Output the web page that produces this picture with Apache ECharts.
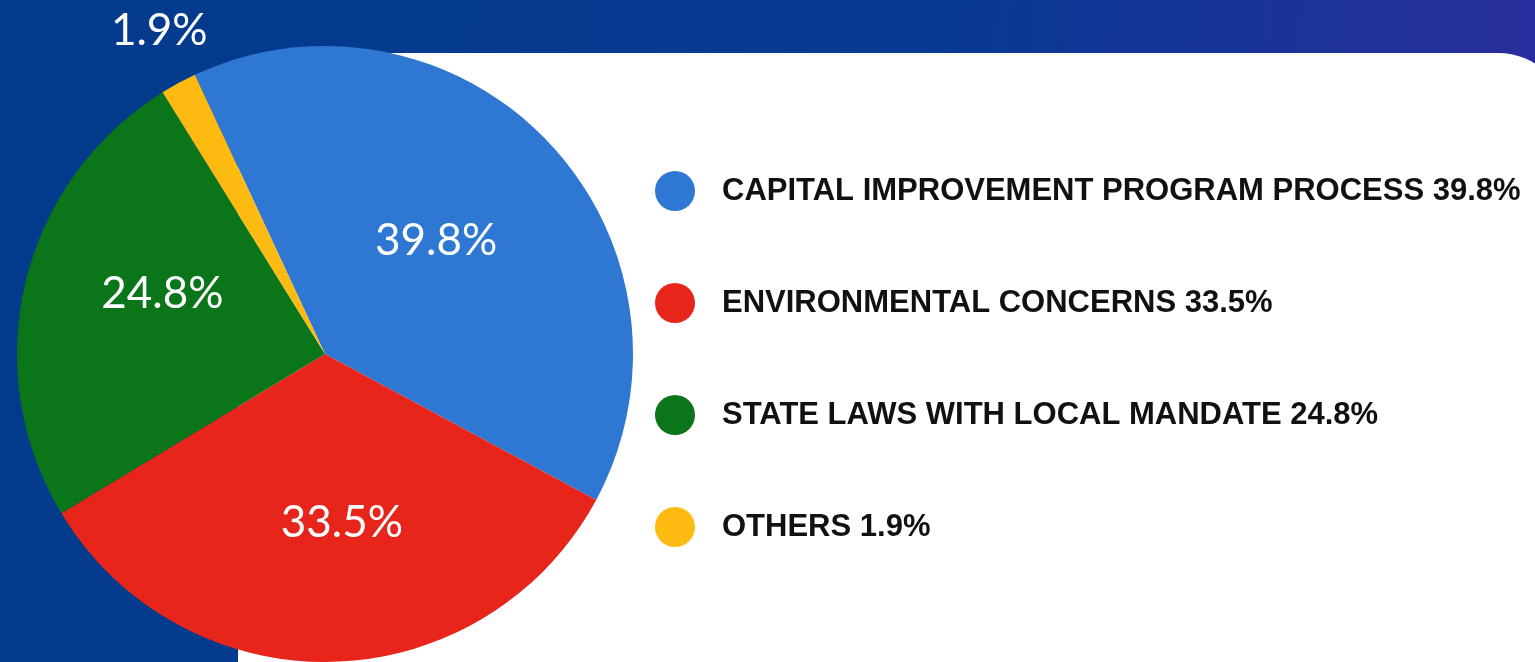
<!DOCTYPE html>
<html>
<head>
<meta charset="utf-8">
<script src="https://cdn.jsdelivr.net/npm/echarts@6/dist/echarts.min.js"></script>
<style>
html,body{margin:0;padding:0;width:100%;height:100%;overflow:hidden;}
#chart{width:1535px;height:662px;}
</style>
</head>
<body>
<div id="chart"></div>
<script>
const categories = ['CAPITAL IMPROVEMENT PROGRAM PROCESS', 'ENVIRONMENTAL CONCERNS', 'STATE LAWS WITH LOCAL MANDATE', 'OTHERS'];
const values = [39.8, 33.5, 24.8, 1.9];
const colors = ['#2E78D3', '#E7251A', '#0B751A', '#FDBB12'];
const labelOffsets = [[-3, -5], [13, 12], [-10, -23], [-91, -185]];

const chart = echarts.init(document.getElementById('chart'));
const pieData = categories.map((name, i) => ({
  name: name,
  value: values[i],
  itemStyle: { color: colors[i] },
  label: { offset: labelOffsets[i] }
}));

chart.setOption({
  animation: false,
  backgroundColor: {
    type: 'linear', x: 0, y: 0, x2: 1, y2: 0.3,
    colorStops: [
      { offset: 0, color: '#033B8C' },
      { offset: 0.6, color: '#073A92' },
      { offset: 1, color: '#2A2E9E' }
    ]
  },
  graphic: [{
    type: 'rect',
    z: 0,
    shape: { x: 238, y: 53, width: 1330, height: 700, r: [60, 70, 0, 0] },
    style: { fill: '#FFFFFF' }
  }],
  legend: {
    orient: 'vertical',
    left: 650,
    top: 166,
    icon: 'circle',
    itemWidth: 40,
    itemHeight: 40,
    itemGap: 72,
    data: categories,
    formatter: function (name) {
      const i = categories.indexOf(name);
      return name + ' ' + values[i] + '%';
    },
    textStyle: {
      fontFamily: '"Liberation Sans", Arial, sans-serif',
      fontWeight: 'bold',
      fontSize: 31,
      color: '#111111',
      padding: [0, 0, 0, 22]
    }
  },
  series: [{
    type: 'pie',
    center: [325, 354],
    radius: [0, 308],
    startAngle: 115,
    clockwise: true,
    avoidLabelOverlap: false,
    itemStyle: { borderWidth: 0 },
    label: {
      show: true,
      position: 'inside',
      formatter: '{c}%',
      color: '#FFFFFF',
      fontFamily: 'Lato, "Noto Sans", sans-serif',
      fontSize: 44
    },
    labelLine: { show: false },
    emphasis: { disabled: true },
    data: pieData
  }]
});
</script>
</body>
</html>
